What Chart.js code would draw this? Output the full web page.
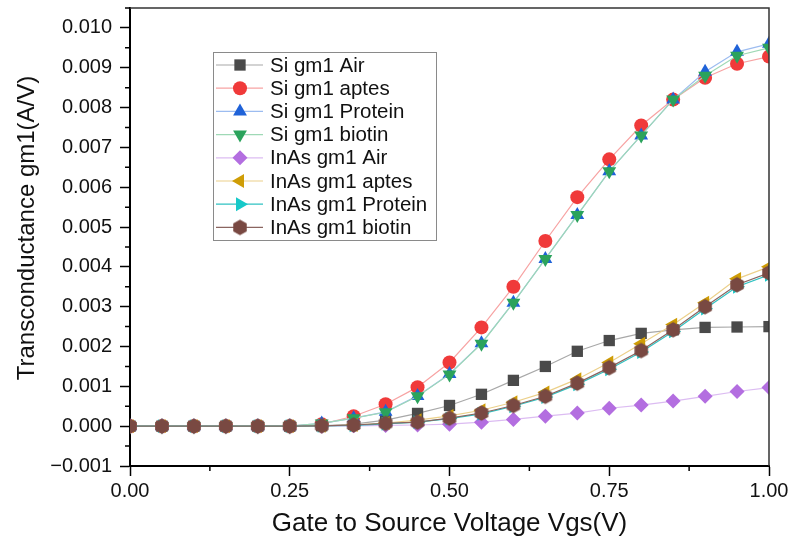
<!DOCTYPE html>
<html>
<head>
<meta charset="utf-8">
<script src="https://cdn.jsdelivr.net/npm/chart.js"></script>
<style>
  html, body { margin: 0; padding: 0; background: #fff; }
  #wrap { width: 792px; height: 541px; }
</style>
</head>
<body>
<div id="wrap"><canvas id="gmChart" width="792" height="541"></canvas></div>
<script>
// gate voltage sweep (V)
const vgs = [0.00, 0.05, 0.10, 0.15, 0.20, 0.25, 0.30, 0.35, 0.40, 0.45, 0.50,
             0.55, 0.60, 0.65, 0.70, 0.75, 0.80, 0.85, 0.90, 0.95, 1.00];

// transconductance gm1 (A/V)
const siAir      = [0, 0, 0, 0, 0, 0, 0.00001, 0.00005, 0.00015, 0.00032, 0.00052, 0.0008, 0.00115, 0.0015, 0.00188, 0.00215, 0.00233, 0.00242, 0.00248, 0.00249, 0.0025];
const siAptes    = [0, 0, 0, 0, 0, 0, 0.00005, 0.00025, 0.00055, 0.00098, 0.0016, 0.00248, 0.0035, 0.00465, 0.00575, 0.0067, 0.00755, 0.0082, 0.00875, 0.0091, 0.00928];
const siProtein  = [0, 0, 0, 0, 0, 0, 0.00007, 0.0002, 0.00036, 0.00076, 0.00131, 0.00208, 0.0031, 0.0042, 0.0053, 0.0064, 0.0073, 0.0082, 0.0089, 0.0094, 0.0096];
const siBiotin   = [0, 0, 0, 0, 0, 0, 0.00007, 0.0002, 0.00035, 0.00075, 0.0013, 0.00207, 0.0031, 0.0042, 0.0053, 0.0064, 0.0073, 0.0082, 0.0088, 0.0093, 0.0095];
const inasAir    = [0, 0, 0, 0, 0, 0, 0, 0.00001, 0.00002, 0.00003, 0.00005, 0.0001, 0.00017, 0.00025, 0.00033, 0.00045, 0.00053, 0.00063, 0.00075, 0.00087, 0.00097];
const inasAptes  = [0, 0, 0, 0, 0, 0, 0.00001, 0.00003, 0.00008, 0.00015, 0.00026, 0.0004, 0.0006, 0.00085, 0.00118, 0.0016, 0.00207, 0.00255, 0.0031, 0.0037, 0.004];
const inasProtein= [0, 0, 0, 0, 0, 0, 0.00001, 0.00002, 0.00006, 0.0001, 0.00019, 0.00031, 0.0005, 0.00073, 0.00105, 0.00143, 0.00186, 0.00238, 0.00295, 0.0035, 0.0038];
const inasBiotin = [0, 0, 0, 0, 0, 0, 0.00001, 0.00003, 0.00007, 0.0001, 0.0002, 0.00033, 0.00052, 0.00075, 0.00108, 0.00147, 0.0019, 0.00242, 0.003, 0.00355, 0.00385];

const seriesNames = ['Si gm1 Air', 'Si gm1 aptes', 'Si gm1 Protein', 'Si gm1 biotin',
                     'InAs gm1 Air', 'InAs gm1 aptes', 'InAs gm1 Protein', 'InAs gm1 biotin'];
const seriesValues = [siAir, siAptes, siProtein, siBiotin, inasAir, inasAptes, inasProtein, inasBiotin];

const xTicks = [0, 0.25, 0.5, 0.75, 1.0];
const yTicks = [-0.001, 0, 0.001, 0.002, 0.003, 0.004, 0.005, 0.006, 0.007, 0.008, 0.009, 0.010];
const yTitle = 'Transconductance gm1(A/V)';

// marker / line styling
const markerColors = ['#4a4a4a', '#f03a3a', '#1f62d8', '#2ba35c', '#b36ee0', '#cf9d06', '#16c9c9', '#794942'];
const lineColors   = ['#a8a8a8', '#f7a3a3', '#9cbcf0', '#9fd9b6', '#dcbcf2', '#ecd08a', '#2fc2c2', '#8a6560'];

const FONT = '"Liberation Sans", Arial, sans-serif';

// hexagon marker for the last series (no built-in style for it)
function hexMarker(r, color) {
    const c = document.createElement('canvas');
    c.width = c.height = Math.ceil(r * 2) + 2;
    const g = c.getContext('2d');
    const cx = c.width / 2, cy = c.height / 2;
    g.beginPath();
    for (let i = 0; i < 6; i++) {
        const a = Math.PI / 6 + i * Math.PI / 3;
        g.lineTo(cx + r * Math.cos(a), cy + r * Math.sin(a));
    }
    g.closePath();
    g.fillStyle = color;
    g.fill();
    return c;
}
const hex = hexMarker(7.8, markerColors[7]);

const pointStyles = ['rect', 'circle', 'triangle', 'triangle', 'rectRot', 'triangle', 'triangle', hex];
const pointRots   = [0, 0, 0, 180, 0, -90, 90, 0];
const pointRadii  = [8, 7, 8, 8, 7.5, 8, 8, 8];

const datasets = seriesNames.map((name, i) => ({
    label: name,
    data: vgs.map((x, k) => ({ x: x, y: seriesValues[i][k] })),
    borderColor: lineColors[i],
    borderWidth: 1.2,
    backgroundColor: markerColors[i],
    pointBackgroundColor: markerColors[i],
    pointBorderColor: markerColors[i],
    pointBorderWidth: 0,
    pointStyle: pointStyles[i],
    rotation: pointRots[i],
    pointRadius: pointRadii[i],
    pointHoverRadius: pointRadii[i],
    tension: 0,
    clip: 0,
    order: seriesNames.length - i
}));

function fmtTick(v, digits) {
    const s = Math.abs(v).toFixed(digits);
    return v < -1e-9 ? '\u2212' + s : s;
}

// frame, minor ticks, y title and legend box, drawn on top of the plot
const decorPlugin = {
    id: 'decor',
    afterDraw(chart) {
        const ctx = chart.ctx;
        const a = chart.chartArea;
        const xs = chart.scales.x, ys = chart.scales.y;
        ctx.save();
        // right and top frame
        ctx.strokeStyle = '#333';
        ctx.lineWidth = 1.5;
        ctx.beginPath();
        ctx.moveTo(a.left, a.top);
        ctx.lineTo(a.right, a.top);
        ctx.lineTo(a.right, a.bottom);
        ctx.stroke();
        // minor ticks
        ctx.strokeStyle = '#000';
        ctx.lineWidth = 1.5;
        ctx.beginPath();
        for (let v = 0.125; v < 1; v += 0.25) {
            const px = xs.getPixelForValue(v);
            ctx.moveTo(px, a.bottom);
            ctx.lineTo(px, a.bottom + 5);
        }
        for (let v = -0.0005; v < 0.0106; v += 0.001) {
            const py = ys.getPixelForValue(v);
            ctx.moveTo(a.left, py);
            ctx.lineTo(a.left - 5, py);
        }
        ctx.stroke();

        // y axis title
        ctx.save();
        ctx.translate(27, a.top + 220);
        ctx.rotate(-Math.PI / 2);
        ctx.font = '24px ' + FONT;
        ctx.fillStyle = '#111';
        ctx.textAlign = 'center';
        ctx.textBaseline = 'middle';
        ctx.fillText(yTitle, 0, 0);
        ctx.restore();

        // legend
        const bx = a.left + 83, by = a.top + 44, bw = 223, bh = 188;
        ctx.fillStyle = '#fff';
        ctx.fillRect(bx, by, bw, bh);
        ctx.strokeStyle = '#8a8a8a';
        ctx.lineWidth = 1;
        ctx.strokeRect(bx + 0.5, by + 0.5, bw, bh);
        ctx.font = '20.5px ' + FONT;
        ctx.textBaseline = 'middle';
        ctx.textAlign = 'left';
        chart.data.datasets.forEach((ds, i) => {
            const y = by + 13 + i * 23.2;
            ctx.strokeStyle = ds.borderColor;
            ctx.lineWidth = 1.2;
            ctx.beginPath();
            ctx.moveTo(bx + 3, y);
            ctx.lineTo(bx + 50, y);
            ctx.stroke();
            ctx.fillStyle = ds.pointBackgroundColor;
            ctx.strokeStyle = ds.pointBackgroundColor;
            Chart.helpers.drawPoint(ctx, {
                pointStyle: ds.pointStyle,
                rotation: ds.rotation,
                radius: ds.pointRadius,
                borderWidth: 0
            }, bx + 27, y);
            ctx.fillStyle = '#111';
            ctx.fillText(ds.label, bx + 57, y + 1);
        });
        ctx.restore();
    }
};

const ctx = document.getElementById('gmChart').getContext('2d');
const gmChart = new Chart(ctx, {
    type: 'line',
    data: { datasets: datasets },
    options: {
        responsive: false,
        animation: false,
        events: [],
        layout: { padding: { top: 8, right: 23, left: 0, bottom: 0 } },
        plugins: {
            legend: { display: false },
            tooltip: { enabled: false }
        },
        scales: {
            x: {
                type: 'linear',
                min: 0,
                max: 1,
                afterFit: s => { s.height = 75; s.paddingLeft = 0; s.paddingRight = 0; },
                afterBuildTicks: s => { s.ticks = xTicks.map(v => ({ value: v })); },
                ticks: {
                    color: '#111',
                    font: { family: FONT, size: 20 },
                    padding: 3,
                    maxRotation: 0,
                    callback: v => fmtTick(v, 2)
                },
                grid: { drawOnChartArea: false, drawTicks: true, tickLength: 10, tickColor: '#000', tickWidth: 1.5 },
                border: { display: true, color: '#000', width: 2 },
                title: {
                    display: true,
                    text: 'Gate to Source Voltage Vgs(V)',
                    color: '#111',
                    font: { family: FONT, size: 26 },
                    padding: { top: 4, bottom: 2 }
                }
            },
            y: {
                type: 'linear',
                min: -0.001,
                max: 0.0105,
                afterFit: s => { s.width = 130; s.paddingTop = 0; s.paddingBottom = 0; },
                afterBuildTicks: s => { s.ticks = yTicks.map(v => ({ value: v })); },
                ticks: {
                    color: '#111',
                    font: { family: FONT, size: 20 },
                    padding: 8,
                    callback: v => fmtTick(v, 3)
                },
                grid: { drawOnChartArea: false, drawTicks: true, tickLength: 10, tickColor: '#000', tickWidth: 1.5 },
                border: { display: true, color: '#000', width: 2 }
            }
        }
    },
    plugins: [decorPlugin]
});
</script>
</body>
</html>
